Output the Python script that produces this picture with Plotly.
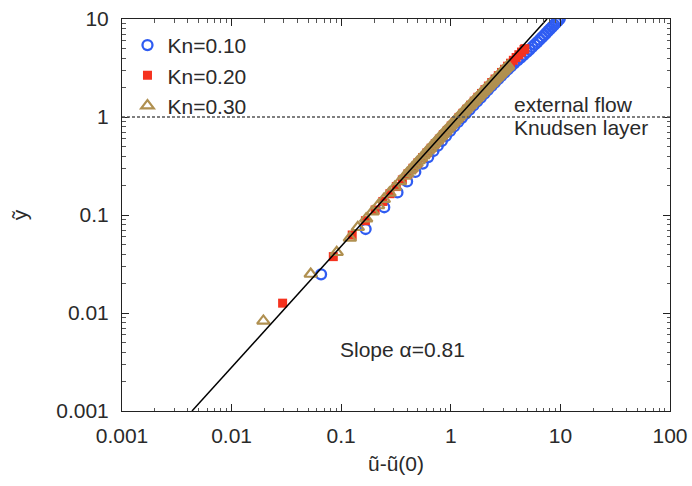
import plotly.graph_objects as go

# ---- data ----
kn10_y = [0.0248, 0.072, 0.12, 0.17, 0.22, 0.275, 0.335, 0.39, 0.45, 0.51, 0.57, 0.64, 0.72, 0.80,
          0.89, 0.98, 1.08, 1.19, 1.31, 1.44, 1.58, 1.73, 1.89, 2.06, 2.24, 2.43, 2.63, 2.84, 3.06,
          3.29, 3.53, 3.78, 4.04, 4.31, 4.59, 4.88, 5.18, 5.49, 5.81, 6.14, 6.48, 6.83, 7.19, 7.56,
          7.94, 8.33, 8.73, 9.14, 9.56, 10.0]
kn10_x = [0.0655, 0.167, 0.247, 0.326, 0.399, 0.474, 0.554, 0.622, 0.694, 0.761, 0.829, 0.904,
          0.987, 1.070, 1.167, 1.261, 1.368, 1.483, 1.607, 1.739, 1.879, 2.027, 2.183, 2.346, 2.522,
          2.700, 2.892, 3.099, 3.315, 3.540, 3.782, 4.055, 4.346, 4.634, 4.933, 5.231, 5.541, 5.849,
          6.166, 6.477, 6.798, 7.110, 7.428, 7.755, 8.088, 8.428, 8.774, 9.126, 9.489, 9.863]

kn20_y = [0.0126, 0.0376, 0.0625, 0.0875, 0.1125, 0.1375, 0.165, 0.195, 0.228, 0.263, 0.30, 0.34,
          0.385, 0.43, 0.48, 0.535, 0.595, 0.66, 0.73, 0.81, 0.90, 0.99, 1.09, 1.20, 1.32, 1.45,
          1.59, 1.74, 1.90, 2.07, 2.25, 2.44, 2.64, 2.85, 3.07, 3.30, 3.54, 3.79, 4.05, 4.32, 4.60,
          4.89, 4.98]
kn20_x = [0.0292, 0.0847, 0.126, 0.1663, 0.2039, 0.2399, 0.278, 0.3183, 0.3613, 0.4056, 0.4514,
          0.4994, 0.5525, 0.6043, 0.6604, 0.7211, 0.786, 0.8547, 0.9275, 1.009, 1.099, 1.187, 1.289,
          1.397, 1.512, 1.636, 1.766, 1.905, 2.050, 2.203, 2.362, 2.534, 2.714, 2.900, 3.094, 3.296,
          3.505, 3.721, 3.945, 4.176, 4.414, 4.659, 4.739]

kn30_y = [0.0083, 0.025, 0.0417, 0.0583, 0.075, 0.0917, 0.108, 0.125, 0.145, 0.168, 0.193, 0.22,
          0.25, 0.266, 0.283, 0.301, 0.32, 0.34, 0.36, 0.382, 0.405, 0.43, 0.455, 0.482, 0.51,
          0.54, 0.57, 0.602, 0.635, 0.67, 0.705, 0.742, 0.78, 0.82, 0.86, 0.905, 0.95, 0.995,
          1.04, 1.09, 1.14, 1.195, 1.25, 1.31, 1.37, 1.43, 1.49, 1.555, 1.62, 1.69, 1.76, 1.835,
          1.91, 1.985, 2.06, 2.14, 2.22, 2.305, 2.39, 2.48, 2.57, 2.66, 2.75, 2.845, 2.94, 3.035,
          3.13, 3.23, 3.33]
kn30_x = [0.0195, 0.0527, 0.091, 0.12, 0.1418, 0.1689, 0.1928, 0.2171, 0.2447, 0.2758, 0.3086,
          0.343, 0.3804, 0.400, 0.4207, 0.442, 0.4646, 0.488, 0.511, 0.537, 0.5624, 0.590, 0.618,
          0.648, 0.6779, 0.709, 0.7419, 0.775, 0.8096, 0.845, 0.881, 0.918, 0.9563, 0.995, 1.035,
          1.078, 1.122, 1.167, 1.213, 1.262, 1.313, 1.366, 1.421, 1.478, 1.537, 1.594, 1.653,
          1.714, 1.777, 1.842, 1.910, 1.978, 2.049, 2.118, 2.189, 2.262, 2.337, 2.414, 2.492,
          2.572, 2.655, 2.736, 2.818, 2.902, 2.987, 3.072, 3.159, 3.247, 3.336]

fit_x = [0.00435, 7.55]   # slope alpha = 0.81 power-law fit, end points
fit_y = [0.001, 10.0]

tick_vals = [0.001, 0.01, 0.1, 1, 10, 100]
tick_text = ["0.001", "0.01", "0.1", "1", "10", "100"]
minor_vals = [m * d for d in [0.001, 0.01, 0.1, 1, 10] for m in range(2, 10)]

FONT = "Liberation Sans, Arial, sans-serif"
TXT = "#2a2a2a"
FS = 21

fig = go.Figure()
fig.add_trace(go.Scatter(x=kn10_x, y=kn10_y, mode="markers", name="Kn=0.10",
                         marker=dict(symbol="circle-open", size=10, color="#2f5cf2",
                                     line=dict(width=2.3, color="#2f5cf2"))))
fig.add_trace(go.Scatter(x=kn20_x, y=kn20_y, mode="markers", name="Kn=0.20",
                         marker=dict(symbol="square", size=9, color="#f5321e",
                                     line=dict(width=0))))
fig.add_trace(go.Scatter(x=kn30_x, y=kn30_y, mode="markers", name="Kn=0.30",
                         marker=dict(symbol="triangle-up-open", size=11, color="#b09050",
                                     line=dict(width=2.2, color="#b09050"))))
fig.add_trace(go.Scatter(x=fit_x, y=fit_y, mode="lines", showlegend=False,
                         line=dict(color="black", width=1.5)))

fig.add_hline(y=1, line=dict(color="#555555", width=1.3, dash="3px,2px"))

axis_common = dict(
    type="log", showgrid=False, zeroline=False, showline=True, linecolor="#222222",
    linewidth=1, mirror="allticks", ticks="inside", ticklen=7, tickcolor="#222222",
    tickvals=tick_vals, ticktext=tick_text, automargin=False,
    minor=dict(tickvals=minor_vals, ticks="inside", ticklen=3.5, tickcolor="#555555"),
    tickfont=dict(family=FONT, size=FS, color=TXT),
)

fig.update_xaxes(**axis_common, range=[-3, 2], ticklabelstandoff=6,
                 title=dict(text="\u0169-\u0169(0)", font=dict(family=FONT, size=FS, color=TXT),
                            standoff=10))
fig.update_yaxes(**axis_common, range=[-3, 1], ticklabelstandoff=8,
                 title=dict(text="\u1ef9", font=dict(family=FONT, size=FS, color=TXT),
                            standoff=22))

fig.add_annotation(text="external flow", xref="paper", yref="paper", x=0.712, y=0.781,
                   xanchor="left", yanchor="middle", showarrow=False,
                   font=dict(family=FONT, size=FS, color=TXT))
fig.add_annotation(text="Knudsen layer", xref="paper", yref="paper", x=0.712, y=0.722,
                   xanchor="left", yanchor="middle", showarrow=False,
                   font=dict(family=FONT, size=FS, color=TXT))
fig.add_annotation(text="Slope \u03b1=0.81", xref="paper", yref="paper", x=0.394, y=0.156,
                   xanchor="left", yanchor="middle", showarrow=False,
                   font=dict(family=FONT, size=FS, color=TXT))

fig.update_layout(
    width=692, height=486,
    margin=dict(l=122, r=22, t=19, b=75),
    paper_bgcolor="white", plot_bgcolor="white",
    legend=dict(x=0.01, y=0.985, xanchor="left", yanchor="top", bgcolor="rgba(0,0,0,0)",
                font=dict(family=FONT, size=FS, color=TXT), tracegroupgap=0, itemwidth=30),
    showlegend=True,
)

fig.write_html("out.html", config={"displayModeBar": False},
               post_script="document.body.style.margin='0';")
